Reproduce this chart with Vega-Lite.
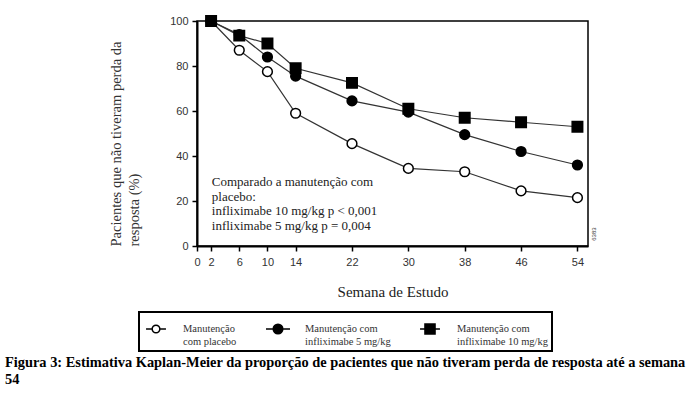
{
  "$schema": "https://vega.github.io/schema/vega-lite/v6.json",
  "width": 391,
  "height": 225,
  "autosize": {"type": "none"},
  "padding": {"left": 197, "top": 21, "right": 109, "bottom": 151},
  "background": "white",
  "config": {
    "view": {"stroke": "black", "strokeWidth": 1.5},
    "font": "Liberation Serif",
    "legend": {
      "title": null,
      "orient": "none",
      "legendX": -58,
      "legendY": 291,
      "direction": "horizontal",
      "columns": 3,
      "padding": 4,
      "strokeColor": "black",
      "strokeWidth": 2,
      "fillColor": "white",
      "symbolSize": 576,
      "symbolStrokeColor": "black",
      "symbolStrokeWidth": 1.5,
      "labelOffset": 14,
      "columnPadding": 26,
      "labelFont": "Liberation Serif",
      "labelFontSize": 10.5,
      "labelColor": "#333333",
      "labelLimit": 200
    }
  },
  "title": {
    "text": ["Figura 3: Estimativa Kaplan-Meier da proporção de pacientes que não tiveram perda de resposta até a semana", "54"],
    "orient": "bottom",
    "anchor": "start",
    "frame": "group",
    "dx": -192,
    "offset": 4,
    "font": "Liberation Serif",
    "fontSize": 14.4,
    "fontWeight": "bold",
    "color": "black",
    "lineHeight": 17
  },
  "data": {
    "values": [
      {"semana": 2, "pct": 100, "grupo": "Manutenção com placebo"},
      {"semana": 6, "pct": 87, "grupo": "Manutenção com placebo"},
      {"semana": 10, "pct": 77.5, "grupo": "Manutenção com placebo"},
      {"semana": 14, "pct": 59, "grupo": "Manutenção com placebo"},
      {"semana": 22, "pct": 45.5, "grupo": "Manutenção com placebo"},
      {"semana": 30, "pct": 34.5, "grupo": "Manutenção com placebo"},
      {"semana": 38, "pct": 33, "grupo": "Manutenção com placebo"},
      {"semana": 46, "pct": 24.5, "grupo": "Manutenção com placebo"},
      {"semana": 54, "pct": 21.5, "grupo": "Manutenção com placebo"},
      {"semana": 2, "pct": 100, "grupo": "Manutenção com infliximabe 5 mg/kg"},
      {"semana": 6, "pct": 94, "grupo": "Manutenção com infliximabe 5 mg/kg"},
      {"semana": 10, "pct": 84, "grupo": "Manutenção com infliximabe 5 mg/kg"},
      {"semana": 14, "pct": 75.5, "grupo": "Manutenção com infliximabe 5 mg/kg"},
      {"semana": 22, "pct": 64.5, "grupo": "Manutenção com infliximabe 5 mg/kg"},
      {"semana": 30, "pct": 59.5, "grupo": "Manutenção com infliximabe 5 mg/kg"},
      {"semana": 38, "pct": 49.5, "grupo": "Manutenção com infliximabe 5 mg/kg"},
      {"semana": 46, "pct": 42, "grupo": "Manutenção com infliximabe 5 mg/kg"},
      {"semana": 54, "pct": 36, "grupo": "Manutenção com infliximabe 5 mg/kg"},
      {"semana": 2, "pct": 100, "grupo": "Manutenção com infliximabe 10 mg/kg"},
      {"semana": 6, "pct": 93.5, "grupo": "Manutenção com infliximabe 10 mg/kg"},
      {"semana": 10, "pct": 90, "grupo": "Manutenção com infliximabe 10 mg/kg"},
      {"semana": 14, "pct": 79, "grupo": "Manutenção com infliximabe 10 mg/kg"},
      {"semana": 22, "pct": 72.5, "grupo": "Manutenção com infliximabe 10 mg/kg"},
      {"semana": 30, "pct": 61, "grupo": "Manutenção com infliximabe 10 mg/kg"},
      {"semana": 38, "pct": 57, "grupo": "Manutenção com infliximabe 10 mg/kg"},
      {"semana": 46, "pct": 55, "grupo": "Manutenção com infliximabe 10 mg/kg"},
      {"semana": 54, "pct": 53, "grupo": "Manutenção com infliximabe 10 mg/kg"}
    ]
  },
  "layer": [
    {
      "mark": {"type": "line", "color": "#333333", "strokeWidth": 1.2},
      "encoding": {
        "x": {
          "field": "semana", "type": "quantitative",
          "scale": {"domain": [0, 55.5], "nice": false, "zero": false},
          "axis": {
            "values": [0, 2, 6, 10, 14, 22, 30, 38, 46, 54],
            "title": "Semana  de Estudo",
            "grid": false,
            "domainColor": "black", "domainWidth": 2,
            "tickColor": "black", "tickWidth": 1.5, "tickSize": 5,
            "labelFont": "Liberation Sans", "labelFontSize": 11, "labelColor": "#333333",
            "labelPadding": 5, "labelFlush": false, "labelOverlap": false,
            "titleFont": "Liberation Serif", "titleFontSize": 15, "titleFontWeight": "normal",
            "titleColor": "#222222", "titlePadding": 17
          }
        },
        "y": {
          "field": "pct", "type": "quantitative",
          "scale": {"domain": [0, 100], "nice": false},
          "axis": {
            "values": [0, 20, 40, 60, 80, 100],
            "title": ["Pacientes que não tiveram  perda da", "resposta (%)"],
            "titleAnchor": "start",
            "grid": false,
            "domainColor": "black", "domainWidth": 2,
            "tickColor": "black", "tickWidth": 1.5, "tickSize": 5,
            "labelFont": "Liberation Sans", "labelFontSize": 11, "labelColor": "#333333",
            "labelPadding": 4, "labelOverlap": false, "labelFlush": false,
            "titleFont": "Liberation Serif", "titleFontSize": 14.5, "titleFontWeight": "normal",
            "titleColor": "#333333", "titlePadding": 28, "titleLineHeight": 18
          }
        },
        "detail": {"field": "grupo"}
      }
    },
    {
      "transform": [{"filter": "datum.grupo != 'Manutenção com infliximabe 10 mg/kg'"}],
      "mark": {"type": "point", "shape": "circle", "filled": true, "stroke": "black", "strokeWidth": 1.5, "opacity": 1, "size": 95},
      "encoding": {
        "x": {"field": "semana", "type": "quantitative"},
        "y": {"field": "pct", "type": "quantitative"},
        "fill": {
          "field": "grupo", "type": "nominal",
          "scale": {
            "domain": ["Manutenção com placebo", "Manutenção com infliximabe 5 mg/kg", "Manutenção com infliximabe 10 mg/kg"],
            "range": ["white", "black", "black"]
          },
          "legend": {"labelExpr": "datum.label == 'Manutenção com placebo' ? ['Manutenção', 'com placebo'] : ['Manutenção com', replace(datum.label, 'Manutenção com ', '')]"}
        }
      }
    },
    {
      "transform": [{"filter": "datum.grupo == 'Manutenção com infliximabe 10 mg/kg'"}],
      "mark": {"type": "point", "shape": "square", "filled": true, "stroke": "black", "strokeWidth": 1.5, "opacity": 1, "size": 110},
      "encoding": {
        "x": {"field": "semana", "type": "quantitative"},
        "y": {"field": "pct", "type": "quantitative"},
        "fill": {
          "field": "grupo", "type": "nominal",
          "legend": {"labelExpr": "datum.label == 'Manutenção com placebo' ? ['Manutenção', 'com placebo'] : ['Manutenção com', replace(datum.label, 'Manutenção com ', '')]"}
        }
      }
    },
    {
      "transform": [{"filter": "false"}],
      "mark": {"type": "point", "filled": true, "opacity": 1, "strokeWidth": 1.5},
      "encoding": {
        "shape": {
          "field": "grupo", "type": "nominal",
          "scale": {
            "domain": ["Manutenção com placebo", "Manutenção com infliximabe 5 mg/kg", "Manutenção com infliximabe 10 mg/kg"],
            "range": [
              "M-0.83,0L-0.32,0M0.32,0L0.83,0M-0.32,0A0.32,0.32 0 1,0 0.32,0A0.32,0.32 0 1,0 -0.32,0Z",
              "M-1,0L1,0M-0.4,0A0.4,0.4 0 1,0 0.4,0A0.4,0.4 0 1,0 -0.4,0Z",
              "M-0.83,0L0.83,0M-0.42,-0.42L0.42,-0.42L0.42,0.42L-0.42,0.42Z"
            ]
          },
          "legend": {"labelExpr": "datum.label == 'Manutenção com placebo' ? ['Manutenção', 'com placebo'] : ['Manutenção com', replace(datum.label, 'Manutenção com ', '')]"}
        },
        "fill": {
          "field": "grupo", "type": "nominal",
          "legend": {"labelExpr": "datum.label == 'Manutenção com placebo' ? ['Manutenção', 'com placebo'] : ['Manutenção com', replace(datum.label, 'Manutenção com ', '')]"}
        },
        "stroke": {
          "field": "grupo", "type": "nominal",
          "scale": {
            "domain": ["Manutenção com placebo", "Manutenção com infliximabe 5 mg/kg", "Manutenção com infliximabe 10 mg/kg"],
            "range": ["black", "black", "black"]
          },
          "legend": {"labelExpr": "datum.label == 'Manutenção com placebo' ? ['Manutenção', 'com placebo'] : ['Manutenção com', replace(datum.label, 'Manutenção com ', '')]"}
        }
      }
    },
    {
      "data": {"values": [{"nota": "Comparado a manutenção com"}]},
      "mark": {
        "type": "text", "align": "left", "baseline": "top",
        "font": "Liberation Serif", "fontSize": 13, "color": "#222222", "lineHeight": 14.5,
        "text": ["Comparado a manutenção com", "placebo:", "infliximabe 10 mg/kg p < 0,001", "infliximabe 5 mg/kg   p = 0,004"]
      },
      "encoding": {
        "x": {"datum": 2.1},
        "y": {"datum": 31}
      }
    },
    {
      "data": {"values": [{"id": "6383"}]},
      "mark": {
        "type": "text", "align": "center", "baseline": "middle", "angle": 270,
        "font": "Liberation Sans", "fontSize": 6, "color": "#333333"
      },
      "encoding": {
        "text": {"field": "id"},
        "x": {"datum": 56.3},
        "y": {"datum": 5.3}
      }
    }
  ]
}
